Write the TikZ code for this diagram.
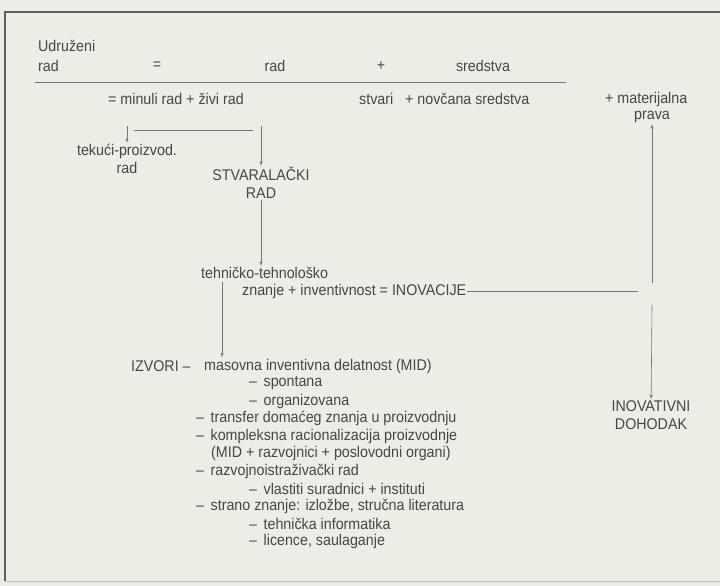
\documentclass[tikz,border=0pt]{standalone}
\usepackage{fontspec}
\setmainfont{Liberation Sans}[FakeStretch=0.92]
\usetikzlibrary{shapes,arrows,positioning}
\definecolor{paper}{RGB}{236,238,229}
\definecolor{ink}{RGB}{70,70,68}
\definecolor{wire}{RGB}{118,118,114}
\definecolor{frame}{RGB}{95,95,92}
\tikzstyle{txt} = [inner sep=1pt, text=ink, font=\fontsize{15.5}{18}\selectfont]
\tikzstyle{lt} = [txt, anchor=west]
\tikzstyle{line} = [draw=wire, line width=0.6pt, -latex']
\tikzstyle{bar} = [draw=wire, line width=0.6pt]

\begin{document}
\begin{tikzpicture}[x=1pt, y=-1pt]
    \fill [paper] (0,0) rectangle (720,586);
    \useasboundingbox (0,0) rectangle (720,586);
    \draw [frame, line width=1.6pt] (725,12) -- (5,12) -- (5,581);
    \draw [frame!40, line width=0.8pt] (5,581) -- (725,581);
    % Nodes
    \node [lt] (udr) at (37,46) {Udruženi};
    \node [lt] (udrrad) at (37,66) {rad};
    \node [txt] (eq) at (157,66) {=};
    \node [txt] (rad) at (275,66) {rad};
    \node [txt] (plus) at (381,66) {+};
    \node [txt] (sred) at (483,66) {sredstva};
    \node [lt] (minuli) at (107,99) {= minuli rad + živi rad};
    \node [lt] (stvari) at (358,99) {stvari};
    \node [lt] (novac) at (404,99) {+ novčana sredstva};
    \node [lt] (mat) at (604,99) {+ materijalna};
    \node [txt] (prava) at (652,117) {prava};
    \node [txt, align=center] (tek) at (127,159) {tekući-proizvod.\\rad};
    \node [txt, align=center] (stv) at (261,183) {STVARALAČKI\\RAD};
    \node [lt] (teh) at (200,273) {tehničko-tehnološko};
    \node [lt] (znanje) at (241,291) {znanje + inventivnost = INOVACIJE};
    \node [txt, align=center] (inov) at (651,415) {INOVATIVNI\\DOHODAK};
    % Sources
    \node [lt] (izv) at (130,366) {IZVORI –};
    \node [lt] (mid) at (203,366) {masovna inventivna delatnost (MID)};
    \node [lt] (spon) at (248,383.5) {– \,spontana};
    \node [lt] (org) at (248,401) {– \,organizovana};
    \node [lt] (trans) at (195,418.5) {– \,transfer domaćeg znanja u proizvodnju};
    \node [lt] (kompl) at (195,436) {– \,kompleksna racionalizacija proizvodnje};
    \node [lt] (razv) at (210,453.5) {(MID + razvojnici + poslovodni organi)};
    \node [lt] (istr) at (195,471) {– \,razvojnoistraživački rad};
    \node [lt] (vlast) at (248,488.5) {– \,vlastiti suradnici + instituti};
    \node [lt] (strano) at (195,506) {– \,strano znanje: izložbe, stručna literatura};
    \node [lt] (info) at (248,523.5) {– \,tehnička informatika};
    \node [lt] (lic) at (248,541) {– \,licence, saulaganje};
    % Coordinates
    \coordinate (ruleA) at (35,82);
    \coordinate (ruleB) at (566,82);
    \coordinate (s1) at (127,126);
    \coordinate (b1) at (134,130);
    \coordinate (b2) at (253,130);
    \coordinate (s2) at (261,126);
    \coordinate (v1) at (222,282);
    \coordinate (r1) at (638,291);
    \coordinate (r2) at (652,283);
    \coordinate (r3) at (652,305);
    % Paths
    \path [bar] (ruleA) -- (ruleB);
    \path [line] (s1) -- (tek);
    \path [bar] (b1) -- (b2);
    \path [line] (s2) -- (stv);
    \path [line] (stv) -- (stv.south |- teh.north);
    \path [line] (v1) -- (v1 |- mid.north);
    \path [bar] (znanje.east) -- (r1);
    \path [line] (r2) -- (prava);
    \path [line] (r3) -- (inov);
\end{tikzpicture}
\end{document}
